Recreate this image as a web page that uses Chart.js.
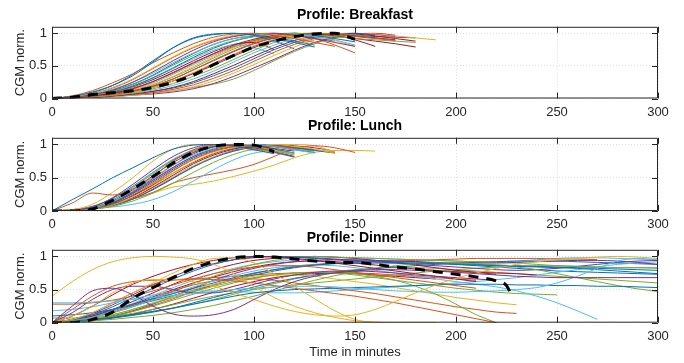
<!DOCTYPE html>
<html lang="en">
<head>
    <meta charset="UTF-8">
    <title>CGM profiles</title>
    <style>
        body { margin: 0; background: #fff; }
        .panel { position: absolute; left: 0; }
    </style>
</head>
<body>
<!-- three stacked panels -->
<div class="panel" style="top:0px"><canvas id="breakfast" width="684" height="120"></canvas></div>
<div class="panel" style="top:111px"><canvas id="lunch" width="684" height="120"></canvas></div>
<div class="panel" style="top:223px"><canvas id="dinner" width="684" height="140"></canvas></div>

<script src="https://cdn.jsdelivr.net/npm/chart.js"></script>

<script>
    const minutes = [0,10,20,30,40,50,60,70,80,90,100,110,120,130,140,150,160,170,180,190,200,210,220,230,240,250,260,270,280,290,300];
    const xTicks = [0, 50, 100, 150, 200, 250, 300];
    const yTicks = [0, 0.5, 1];
    const palette = ['#0072BD', '#D95319', '#EDB120', '#7E2F8E', '#77AC30', '#4DBEEE', '#A2142F'];

    const breakfastCurves = [
        [0,0.03,0.1,0.2,0.35,0.56,0.78,0.93,0.99,1.0,0.97,0.92,0.86,0.79],
        [0,0.04,0.12,0.24,0.38,0.55,0.7,0.84,0.94,0.99,1.0,0.97,0.92,0.86,0.8],
        [0,0.03,0.08,0.17,0.3,0.47,0.64,0.79,0.9,0.97,1.0,0.98,0.94,0.88],
        [0,0.02,0.06,0.13,0.25,0.41,0.58,0.74,0.87,0.95,0.99,1.0,0.97,0.92,0.86,0.8],
        [0,0.02,0.05,0.11,0.21,0.35,0.51,0.66,0.79,0.89,0.95,0.99,1.0,0.98,0.95,0.92,0.9,0.88,0.86],
        [0,0.03,0.07,0.14,0.25,0.39,0.55,0.7,0.83,0.92,0.97,1.0,0.99,0.95,0.9],
        [0,0.01,0.04,0.08,0.15,0.26,0.4,0.55,0.69,0.82,0.91,0.97,1.0,0.99,0.96,0.92,0.88,0.84,0.79],
        [0,0.02,0.05,0.1,0.19,0.32,0.47,0.63,0.77,0.88,0.95,0.99,1.0,0.97,0.92,0.87],
        [0,0.01,0.03,0.06,0.11,0.19,0.3,0.44,0.59,0.73,0.85,0.94,0.99,1.0,0.98,0.95,0.92,0.89],
        [0,0.01,0.03,0.06,0.1,0.17,0.27,0.4,0.54,0.68,0.81,0.91,0.97,1.0,0.98,0.94],
        [0,0.02,0.05,0.08,0.12,0.18,0.27,0.38,0.51,0.65,0.78,0.89,0.96,1.0,0.99,0.96,0.93,0.9],
        [0,0.01,0.03,0.05,0.09,0.15,0.23,0.34,0.46,0.6,0.74,0.86,0.94,0.99,1.0,0.97,0.93,0.88],
        [0,0.01,0.02,0.05,0.08,0.13,0.2,0.3,0.42,0.56,0.7,0.82,0.92,0.98,1.0,0.97,0.92],
        [0,0.01,0.02,0.04,0.07,0.11,0.17,0.26,0.38,0.51,0.65,0.78,0.89,0.96,1.0,0.99,0.96,0.92,0.88],
        [0,0.01,0.02,0.04,0.07,0.11,0.16,0.24,0.35,0.47,0.61,0.75,0.86,0.94,0.99,1.0,0.97],
        [0,0.01,0.02,0.04,0.06,0.09,0.14,0.21,0.31,0.43,0.57,0.71,0.83,0.92,0.98,1.0,0.98,0.95],
        [0,0.01,0.02,0.03,0.05,0.08,0.12,0.18,0.27,0.39,0.52,0.66,0.79,0.9,0.97,1.0,0.99,0.96,0.93,0.9],
        [0,0.01,0.02,0.03,0.05,0.07,0.1,0.15,0.23,0.34,0.47,0.6,0.74,0.86,0.94,0.99,1.0,0.97],
        [0,0.02,0.04,0.06,0.07,0.08,0.12,0.17,0.22,0.3,0.43,0.58,0.72,0.84,0.93,0.98],
        [0,0.02,0.05,0.1,0.19,0.31,0.46,0.61,0.74,0.82,0.78,0.68],
        [0,0.02,0.05,0.1,0.18,0.29,0.43,0.58,0.72,0.83,0.86,0.75],
        [0,0.02,0.06,0.12,0.22,0.36,0.53,0.69,0.83,0.92,0.95,0.88,0.76],
        [0,0.01,0.04,0.09,0.16,0.26,0.39,0.54,0.68,0.8,0.89,0.95,0.97,0.92,0.82,0.7],
        [0,0.01,0.03,0.07,0.13,0.22,0.34,0.49,0.64,0.78,0.89,0.96,1.0,0.97,0.89,0.8],
        [0,0.01,0.03,0.06,0.11,0.19,0.3,0.44,0.58,0.72,0.84,0.93,0.98,1.0,0.99,0.97,0.95,0.94,0.93],
        [0,0.01,0.03,0.06,0.12,0.21,0.33,0.47,0.62,0.76,0.87,0.95,0.99,1.0,0.98,0.96,0.93,0.9],
        [0,0.01,0.03,0.07,0.14,0.24,0.37,0.52,0.66,0.79,0.89,0.95,0.98,0.96,0.9,0.82],
        [0,0.01,0.03,0.06,0.1,0.17,0.27,0.39,0.53,0.67,0.8,0.9,0.96,0.99,0.97,0.9,0.8],
        [0,0.03,0.09,0.2,0.37,0.58,0.78,0.92,0.98,1.0,0.98,0.94,0.88,0.82],
        [0,0.03,0.08,0.16,0.29,0.46,0.63,0.78,0.89,0.96,0.99,1.0,0.97,0.93,0.88]
    ];
    const breakfastMean = [0,0.02,0.06,0.09,0.12,0.17,0.25,0.36,0.52,0.66,0.79,0.88,0.95,0.99,1.0,0.91];

    const lunchCurves = [
        [0,0.17,0.33,0.5,0.65,0.8,0.93,0.99,1.0,0.97,0.92,0.86],
        [0,0.12,0.27,0.24,0.33,0.52,0.75,0.92,0.99,1.0,0.96,0.9],
        [0,0.02,0.1,0.28,0.5,0.75,0.93,1.0,0.99,0.96,0.92,0.88],
        [0,0.01,0.06,0.2,0.4,0.62,0.82,0.95,1.0,0.98,0.93,0.87],
        [0,0.01,0.05,0.16,0.35,0.56,0.76,0.9,0.98,1.0,0.97,0.92,0.87],
        [0,0.01,0.04,0.14,0.3,0.5,0.69,0.84,0.94,0.99,1.0,0.97,0.92,0.87],
        [0,0.01,0.05,0.15,0.32,0.53,0.73,0.88,0.97,1.0,0.98,0.93],
        [0,0.01,0.04,0.12,0.27,0.46,0.65,0.82,0.93,0.99,1.0,0.97,0.92,0.88],
        [0,0.01,0.03,0.1,0.24,0.42,0.61,0.78,0.9,0.97,1.0,0.98,0.94],
        [0,0.01,0.03,0.09,0.21,0.38,0.57,0.74,0.87,0.95,0.99,1.0,0.97,0.93,0.87],
        [0,0.01,0.04,0.13,0.29,0.49,0.69,0.86,0.96,1.0,0.98,0.94,0.9],
        [0,0.01,0.03,0.07,0.15,0.27,0.42,0.58,0.73,0.85,0.92,0.9,0.84],
        [0,0.01,0.03,0.06,0.1,0.17,0.29,0.45,0.62,0.77,0.87,0.9,0.86],
        [0,0.01,0.04,0.11,0.23,0.39,0.57,0.73,0.86,0.94,0.97,0.93,0.87],
        [0,0.01,0.03,0.08,0.18,0.32,0.49,0.66,0.8,0.9,0.96,0.98,0.95,0.91,0.87],
        [0,0.02,0.05,0.1,0.18,0.28,0.42,0.5,0.56,0.62,0.7,0.82,0.94,0.98,0.95,0.88],
        [0,0.02,0.05,0.1,0.18,0.27,0.36,0.4,0.45,0.52,0.6,0.69,0.8,0.88,0.91,0.91,0.9],
        [0,0.01,0.04,0.12,0.26,0.44,0.63,0.8,0.91,0.96,0.95,0.89,0.82],
        [0,0.01,0.03,0.1,0.23,0.4,0.6,0.77,0.89,0.96,0.98,0.96,0.93,0.9],
        [0,0.01,0.05,0.17,0.36,0.58,0.78,0.92,0.99,1.0,0.96,0.9],
        [0,0.01,0.03,0.09,0.2,0.36,0.54,0.71,0.84,0.93,0.98,0.99,0.96,0.92],
        [0,0.02,0.07,0.19,0.37,0.58,0.77,0.9,0.97,0.99,0.95,0.88,0.81],
        [0,0.01,0.04,0.13,0.28,0.47,0.66,0.82,0.93,0.99,1.0,0.98,0.95,0.92,0.88],
        [0,0.01,0.03,0.09,0.2,0.35,0.52,0.68,0.81,0.9,0.96,0.99,1.0,0.98,0.88],
        [0,0.01,0.03,0.08,0.18,0.33,0.5,0.67,0.81,0.91,0.97,1.0,0.98,0.95,0.9]
    ];
    const lunchMean = [0,0.0,0.03,0.16,0.33,0.52,0.72,0.88,0.97,1.0,0.99,0.89];

    const dinnerCurves = [
        [0.4,0.62,0.8,0.92,0.98,1.0,0.99,0.96,0.88,0.74,0.55,0.38,0.25,0.15,0.08,0.03,0.01,0,0,0],
        [0,0.25,0.48,0.52,0.42,0.25,0.13,0.1,0.12,0.2,0.35,0.5,0.62,0.7,0.75,0.78,0.8,0.8,0.79,0.78,0.76,0.74,0.72,0.7,0.69,0.68,0.68,0.68,0.68,0.68,0.68],
        [0.3,0.3,0.31,0.33,0.35,0.38,0.41,0.44,0.47,0.5,0.52,0.54,0.55,0.55,0.54,0.52,0.5,0.48,0.47,0.46,0.46,0.47,0.48,0.5,0.53,0.6,0.7,0.82,0.93,0.97,0.95],
        [0.28,0.28,0.3,0.34,0.4,0.48,0.57,0.66,0.74,0.8,0.84,0.86,0.86,0.84,0.8,0.76,0.72,0.68,0.64,0.6,0.56,0.52],
        [0,0.1,0.25,0.45,0.6,0.65,0.65,0.62,0.55,0.45,0.35,0.25,0.17,0.12,0.1,0.12,0.2,0.32,0.45,0.57,0.67,0.75,0.82,0.88,0.92,0.95,0.97,0.99,1.0,0.99,0.97],
        [0,0.05,0.15,0.3,0.45,0.6,0.75,0.88,0.97,0.98,0.9,0.74,0.55,0.36,0.18,0.05,0,0,0,0],
        [0,0.15,0.35,0.5,0.55,0.55,0.5,0.45,0.45,0.5,0.58,0.66,0.72,0.76,0.78,0.78,0.77,0.75,0.72,0.7,0.68,0.66,0.64],
        [0,0.1,0.25,0.42,0.58,0.7,0.8,0.88,0.94,0.98,1.0,0.99,0.97,0.94,0.9,0.86,0.82,0.78,0.74,0.7,0.66,0.62],
        [0,0.05,0.15,0.3,0.45,0.58,0.64,0.66,0.65,0.63,0.6,0.56,0.52,0.48,0.44,0.4,0.35,0.3,0.24,0.18,0.12,0.06,0.0],
        [0,0.05,0.12,0.2,0.28,0.36,0.44,0.52,0.6,0.68,0.75,0.8,0.84,0.87,0.89,0.9,0.9,0.9,0.9,0.89,0.88,0.87,0.86,0.85,0.84,0.83,0.82,0.8,0.78,0.76,0.74],
        [0,0.02,0.05,0.08,0.12,0.17,0.22,0.28,0.34,0.4,0.45,0.48,0.5,0.51,0.52,0.53,0.54,0.55,0.56,0.57,0.58,0.58,0.58,0.57,0.57,0.56,0.56,0.55,0.55,0.54,0.53],
        [0,0.01,0.03,0.05,0.08,0.11,0.15,0.2,0.26,0.33,0.4,0.48,0.56,0.64,0.71,0.77,0.82,0.86,0.89,0.9,0.9,0.89,0.87,0.84,0.8,0.74,0.68,0.62,0.56,0.51,0.47],
        [0,0.02,0.06,0.12,0.2,0.29,0.38,0.47,0.55,0.62,0.68,0.72,0.75,0.76,0.76,0.74,0.7,0.64,0.55,0.43,0.28,0.12,0.0],
        [0,0.03,0.08,0.15,0.24,0.34,0.44,0.54,0.63,0.71,0.78,0.83,0.86,0.87,0.86,0.83,0.79,0.75,0.7,0.66,0.62,0.58,0.54,0.48,0.4,0.3,0.18,0.05],
        [0,0.03,0.08,0.16,0.26,0.37,0.48,0.57,0.63,0.66,0.66,0.64,0.6,0.56,0.52,0.48,0.44,0.39,0.34,0.29,0.24,0.2,0.16,0.14],
        [0,0.02,0.06,0.12,0.2,0.3,0.4,0.5,0.58,0.65,0.7,0.72,0.72,0.7,0.66,0.62,0.58,0.53,0.48,0.43,0.38,0.34,0.3,0.27],
        [0,0.02,0.05,0.1,0.17,0.25,0.34,0.43,0.52,0.6,0.67,0.72,0.75,0.76,0.75,0.72,0.68,0.64,0.6,0.56,0.52,0.49,0.46,0.44,0.43,0.42],
        [0,0.02,0.05,0.1,0.18,0.28,0.4,0.52,0.64,0.74,0.82,0.88,0.92,0.94,0.95,0.95,0.94,0.93,0.92,0.91,0.9,0.9,0.9,0.91,0.92,0.93,0.94,0.94,0.93,0.91,0.88],
        [0,0.04,0.12,0.24,0.38,0.52,0.66,0.78,0.88,0.95,0.99,1.0,0.99,0.97,0.95,0.93,0.92,0.91,0.9,0.9,0.89,0.88,0.87,0.86,0.85,0.84,0.83,0.82,0.81,0.8,0.79],
        [0,0.03,0.08,0.15,0.24,0.35,0.47,0.59,0.7,0.8,0.88,0.94,0.98,1.0,0.99,0.98,0.97,0.96,0.95,0.94,0.93,0.92,0.91,0.9,0.88,0.86,0.85,0.84,0.83,0.83,0.82],
        [0.18,0.2,0.24,0.3,0.36,0.42,0.46,0.48,0.48,0.47,0.46,0.45,0.45,0.46,0.48,0.5,0.52,0.54,0.56,0.58,0.6,0.62,0.65,0.68,0.72,0.76,0.8,0.84,0.88,0.9,0.92],
        [0,0.03,0.1,0.2,0.32,0.45,0.58,0.7,0.8,0.88,0.94,0.97,0.99,1.0,0.99,0.97,0.94,0.91,0.87,0.83,0.79,0.76,0.73],
        [0,0.02,0.04,0.07,0.11,0.16,0.22,0.3,0.38,0.46,0.54,0.61,0.67,0.72,0.76,0.79,0.82,0.84,0.86,0.88,0.9,0.91,0.92,0.93,0.93,0.93,0.92,0.91,0.9,0.89,0.88],
        [0,0.02,0.05,0.1,0.17,0.26,0.36,0.47,0.57,0.66,0.74,0.8,0.85,0.88,0.9,0.91,0.92,0.93,0.94,0.95,0.96,0.97,0.97,0.97,0.97,0.96,0.96,0.95],
        [0,0.05,0.14,0.27,0.42,0.57,0.7,0.81,0.89,0.95,0.98,1.0,0.99,0.98,0.96,0.94,0.92,0.9,0.88,0.86,0.84,0.82,0.8,0.79,0.8,0.82,0.85,0.88,0.91,0.93,0.94],
        [0,0.02,0.05,0.09,0.14,0.2,0.27,0.34,0.4,0.45,0.5,0.54,0.57,0.6,0.63,0.66,0.69,0.72,0.75,0.78,0.8,0.82,0.84,0.85,0.86,0.86,0.85,0.84,0.83,0.83,0.83],
        [0,0.03,0.09,0.18,0.29,0.41,0.53,0.64,0.74,0.82,0.88,0.92,0.95,0.97,0.98,0.98,0.97,0.96,0.95,0.94,0.93,0.92,0.92,0.93,0.95,0.97,0.98,0.98,0.97,0.96,0.95],
        [0,0.01,0.03,0.07,0.13,0.2,0.28,0.37,0.46,0.55,0.62,0.68,0.72,0.74,0.75,0.74,0.72,0.7,0.68,0.66],
        [0.1,0.12,0.15,0.2,0.26,0.33,0.41,0.49,0.57,0.65,0.72,0.78,0.83,0.87,0.9,0.92,0.93,0.93,0.92,0.9,0.88,0.86,0.84,0.82,0.8,0.78,0.77,0.76,0.75,0.74,0.73],
        [0,0.04,0.1,0.18,0.28,0.39,0.5,0.6,0.69,0.77,0.84,0.89,0.92,0.93,0.92,0.9,0.87,0.84,0.81,0.79,0.77,0.76,0.75,0.74,0.72],
        [0.07,0.07,0.08,0.1,0.13,0.17,0.22,0.28,0.35,0.43,0.51,0.59,0.66,0.72,0.77,0.8,0.82,0.83,0.83,0.82,0.8,0.78,0.76,0.74,0.72,0.7,0.68,0.66,0.64,0.62,0.6],
        [0,0.2,0.4,0.55,0.62,0.64,0.65,0.66,0.68,0.7,0.72,0.74,0.75,0.76,0.76,0.75,0.74,0.72,0.7,0.68,0.66,0.64]
    ];
    const dinnerMeanMinutes = [0,10,20,30,40,50,60,70,80,90,100,110,120,130,140,150,160,170,180,190,200,210,220,225,228];
    const dinnerMean = [0,0.0,0.05,0.16,0.37,0.53,0.68,0.82,0.92,0.98,1.0,0.99,0.96,0.93,0.91,0.91,0.88,0.84,0.81,0.77,0.73,0.69,0.63,0.56,0.38];
    // palette index of each dinner curve (breakfast/lunch just cycle the palette)
    const dinnerColorIdx = [2,3,5,1,2,2,3,6,1,0,0,4,4,5,1,2,4,3,0,4,5,6,0,1,3,4,5,6,0,6,4,1];

    Chart.defaults.font.family = "'Liberation Sans', Arial, sans-serif";
    Chart.defaults.color = '#262626';

    function toPoints(values, times) {
        return values.map((v, i) => ({x: times[i], y: v}));
    }

    // matlab style box with inward ticks
    const boxPlugin = {
        id: 'box',
        afterDraw(chart) {
            const {ctx, chartArea: a, scales: {x, y}} = chart;
            ctx.save();
            ctx.setLineDash([]);
            ctx.strokeStyle = '#262626';
            ctx.lineWidth = 1;
            ctx.beginPath();
            ctx.rect(a.left + 0.5, a.top + 0.5, a.width - 1, a.height - 1);
            xTicks.forEach(v => {
                const px = Math.round(x.getPixelForValue(v)) + 0.5;
                ctx.moveTo(px, a.bottom); ctx.lineTo(px, a.bottom - 6);
                ctx.moveTo(px, a.top); ctx.lineTo(px, a.top + 6);
            });
            yTicks.forEach(v => {
                const py = Math.round(y.getPixelForValue(v)) + 0.5;
                ctx.moveTo(a.left, py); ctx.lineTo(a.left + 6, py);
                ctx.moveTo(a.right, py); ctx.lineTo(a.right - 6, py);
            });
            ctx.stroke();
            ctx.restore();
        }
    };

    function makePanel(id, title, curves, colorIdx, mean, meanTimes, xHeight, showXTitle) {
        const datasets = [{
            data: toPoints(mean, meanTimes),
            borderColor: '#000',
            borderWidth: 3,
            borderDash: [10, 8],
            order: 0
        }];
        curves.forEach((c, i) => {
            const k = colorIdx ? colorIdx[i] : i % palette.length;
            datasets.push({
                data: toPoints(c, minutes),
                borderColor: palette[k],
                borderWidth: 1,
                order: 1
            });
        });

        new Chart(document.getElementById(id), {
            type: 'line',
            data: {datasets: datasets},
            options: {
                responsive: false,
                animation: false,
                layout: {padding: {left: 0, right: 26, top: 0, bottom: 0}},
                elements: {
                    point: {radius: 0},
                    line: {cubicInterpolationMode: 'monotone', fill: false}
                },
                scales: {
                    x: {
                        type: 'linear',
                        min: 0,
                        max: 300,
                        afterBuildTicks: s => { s.ticks = xTicks.map(v => ({value: v})); },
                        afterFit: s => { s.height = xHeight; },
                        ticks: {padding: 6, font: {size: 13}, maxRotation: 0, callback: v => String(v)},
                        grid: {color: '#dedede', drawTicks: false},
                        border: {display: false, dash: [1, 2]},
                        title: {
                            display: showXTitle,
                            text: 'Time in minutes',
                            font: {size: 13},
                            padding: {top: 0, bottom: 3}
                        }
                    },
                    y: {
                        min: 0,
                        max: 1.1,
                        afterBuildTicks: s => { s.ticks = yTicks.map(v => ({value: v})); },
                        afterFit: s => { s.width = 52; },
                        ticks: {padding: 5, font: {size: 13}, callback: v => String(v)},
                        grid: {color: '#dedede', drawTicks: false},
                        border: {display: false, dash: [1, 2]},
                        title: {
                            display: true,
                            text: 'CGM norm.',
                            font: {size: 13},
                            padding: {top: 13, bottom: 0}
                        }
                    }
                },
                plugins: {
                    legend: {display: false},
                    tooltip: {enabled: false},
                    title: {
                        display: true,
                        text: title,
                        fullSize: false,
                        color: '#000',
                        font: {size: 14, weight: 'bold'},
                        padding: {top: 7, bottom: 3}
                    }
                }
            },
            plugins: [boxPlugin]
        });
    }

    makePanel('breakfast', 'Profile: Breakfast', breakfastCurves, null, breakfastMean, minutes, 21.5, false);
    makePanel('lunch', 'Profile: Lunch', lunchCurves, null, lunchMean, minutes, 20, false);
    makePanel('dinner', 'Profile: Dinner', dinnerCurves, dinnerColorIdx, dinnerMean, dinnerMeanMinutes, 40.3, true);
</script>
</body>
</html>
